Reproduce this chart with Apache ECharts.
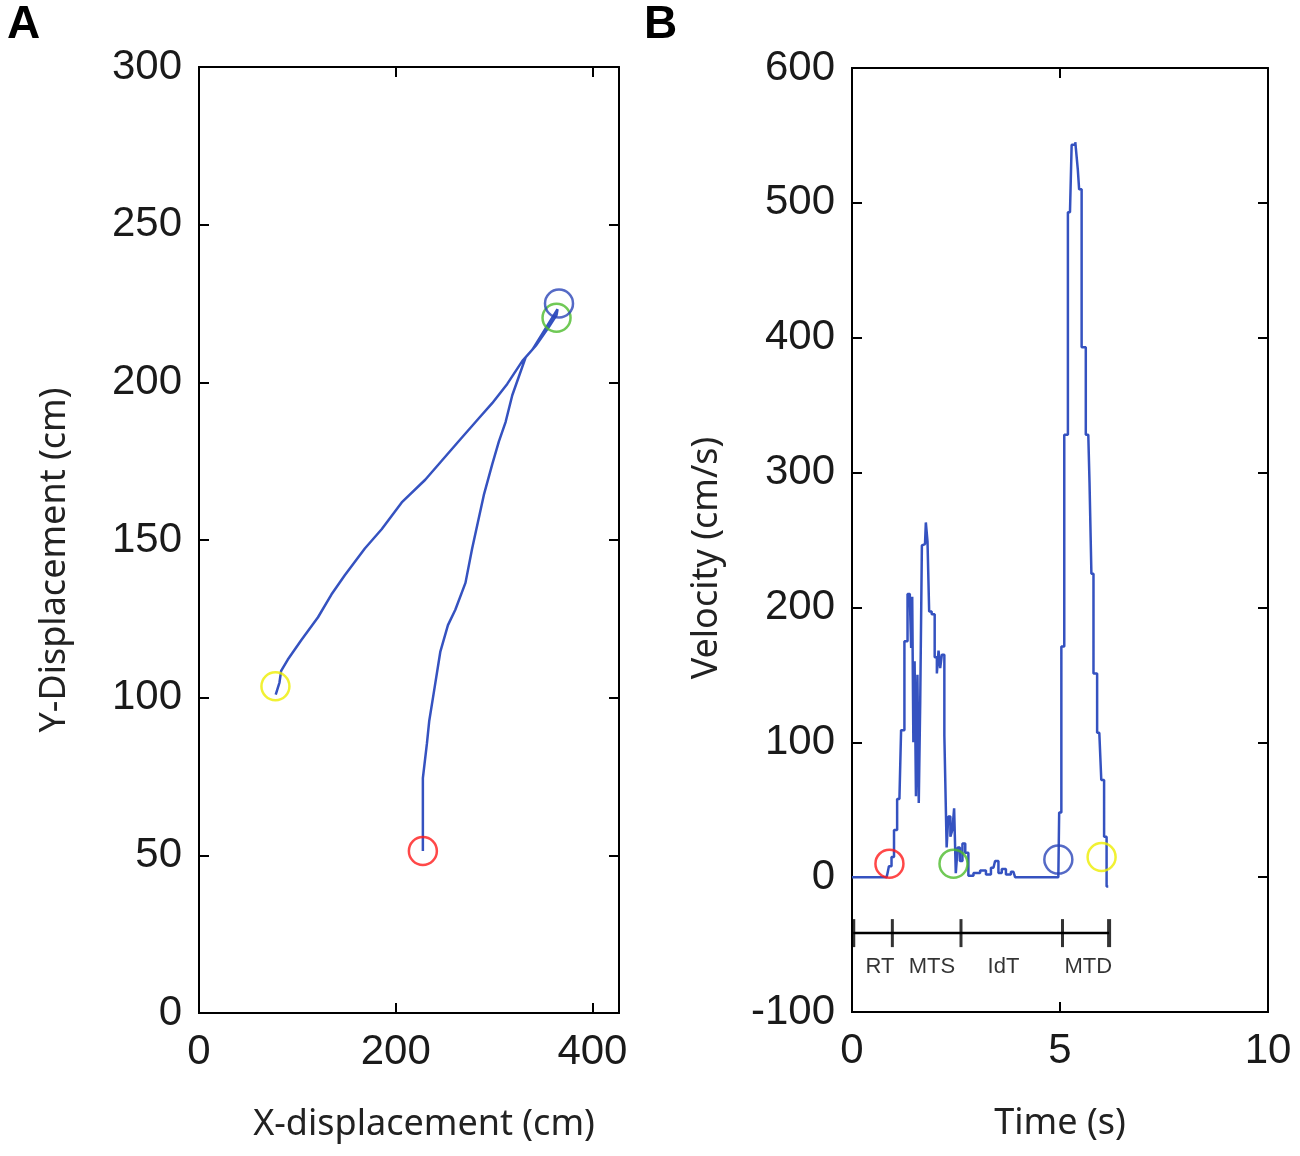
<!DOCTYPE html>
<html>
<head>
<meta charset="utf-8">
<script src="https://cdn.jsdelivr.net/npm/echarts@6/dist/echarts.min.js"></script>
<style>
  html, body { margin: 0; padding: 0; background: #fff; }
  #chart { width: 1300px; height: 1156px; }
</style>
</head>
<body>
<div id="chart"></div>
<script>
// panel A: hand trajectory (cm), red start -> green/blue -> yellow end
var trajX = [227.6, 227.6, 231.7, 234.1, 238.5, 245.3, 253.1, 260.6, 270.9, 277.7, 282.8, 289.6,
  298.1, 304.9, 311.7, 318.5, 325.4, 332.2, 342.4, 356.0, 363.5, 364.5,
  339.0, 328.8, 313.4, 298.1, 284.5, 264.0, 247.0, 230.0, 206.1, 185.7, 168.6, 148.2,
  134.6, 121.0, 103.9, 90.3, 83.5, 81.8, 78.0];
var trajY = [51.4, 74.5, 85.4, 92.7, 101.2, 114.5, 123.0, 127.9, 136.4, 147.3, 154.6, 164.3,
  174.0, 181.3, 187.4, 195.9, 202.0, 208.0, 211.6, 217.7, 221.3, 223.2,
  210.4, 206.8, 199.5, 193.4, 188.6, 181.3, 175.2, 169.1, 161.9, 153.4, 147.3, 138.8,
  132.7, 125.5, 118.2, 112.1, 108.5, 104.8, 101.0];

// panel B: velocity over time
var velT = [0, 0.83, 0.865, 0.91, 0.99, 1.03, 1.14, 1.22, 1.30, 1.37, 1.41, 1.435, 1.46, 1.49,
  1.52, 1.555, 1.59, 1.62, 1.66, 1.70, 1.755, 1.795, 1.835, 1.875, 1.955, 2.02, 2.06, 2.10,
  2.14, 2.18, 2.26, 2.29, 2.34, 2.39, 2.435, 2.475, 2.515, 2.565, 2.62, 2.69, 2.755, 2.84,
  3.0, 3.16, 3.28, 3.40, 3.48, 3.56, 3.64, 3.76, 3.88, 3.96, 4.96, 5.0, 5.065, 5.14, 5.24,
  5.32, 5.415, 5.44, 5.48, 5.56, 5.68, 5.74, 5.77, 5.84, 5.945, 6.04, 6.08, 6.16];
var velV = [0, 0, 2, 8, 15, 35, 58, 109, 175, 210, 207, 170, 208, 100,
  160, 60, 150, 55, 130, 246, 247, 263, 249, 197, 195, 163, 151, 168,
  155, 165, 105, 22, 45, 30, 35, 51, 3, 22, 12, 25, 18, 1,
  3, 5, 2, 7, 12, 3, 6, 2, 4, 0, 0, 48, 171, 328, 493,
  543, 545, 525, 510, 393, 328, 292, 225, 151, 107, 72, 30, -7];

// event markers: red, green, blue, yellow
var markColors = ['#ff1a1a', '#4cbb2c', '#2b45b8', '#eeee00'];
var markAX = [227.6, 363.5, 366.0, 77.7];
var markAY = [51.4, 220.5, 225.0, 103.6];
var markBT = [0.90, 2.44, 4.96, 6.0];
var markBV = [10, 10, 13, 15];

// phase timeline under panel B
var phaseTimes = [0.03, 0.97, 2.62, 5.06, 6.18];
var phaseLevel = -41.5;
var phaseNames = ['RT', 'MTS', 'IdT', 'MTD'];
var phaseLabelT = [0.67, 1.92, 3.64, 5.68];
var phaseLabelV = -66.5;

var lineBlue = '#3552c0';
var tickFont = 'Liberation Sans';
var titleFont = 'Noto Sans';

function tickAxis(gridIndex, min, max, interval, position) {
  // unlabelled axis, only the frame line and inward ticks
  return {
    type: 'value', gridIndex: gridIndex, min: min, max: max, interval: interval,
    position: position,
    axisLine: {show: true, onZero: false, lineStyle: {color: '#000', width: 2}},
    axisTick: {show: true, inside: true, length: 10, lineStyle: {color: '#000', width: 2}},
    splitLine: {show: false},
    axisLabel: {show: false}
  };
}

function frameAxes(gridIndex, min, max, interval, isX, name, nameGap, namePad) {
  var main = {
    type: 'value', gridIndex: gridIndex, min: min, max: max, interval: interval,
    position: isX ? 'bottom' : 'left',
    axisLine: {show: true, onZero: false, lineStyle: {color: '#000', width: 2}},
    axisTick: {show: true, inside: true, length: 10, lineStyle: {color: '#000', width: 2}},
    splitLine: {show: false},
    axisLabel: {show: true, color: '#1a1a1a', fontFamily: tickFont, fontSize: 42,
      margin: isX ? 18 : 17, showMaxLabel: !isX || max % interval === 0},
    name: name, nameLocation: 'middle', nameGap: nameGap,
    nameTextStyle: {color: '#222', fontFamily: titleFont, fontSize: 36, padding: namePad}
  };
  var mirror = tickAxis(gridIndex, min, max, interval, isX ? 'top' : 'right');
  var inner = tickAxis(gridIndex, min, max, interval, isX ? 'bottom' : 'left');
  return [main, mirror, inner];
}

var chart = echarts.init(document.getElementById('chart'));

var xA = frameAxes(0, 0, 427, 200, true, 'X-displacement (cm)', 94, [0, 0, 0, 30]);
var yA = frameAxes(0, 0, 300, 50, false, 'Y-Displacement (cm)', 126, [0, 40, 0, 0]);
var xB = frameAxes(1, 0, 10, 5, true, 'Time (s)', 94, [0, 0, 0, 0]);
var yB = frameAxes(1, -100, 600, 100, false, 'Velocity (cm/s)', 127, [0, 36, 0, 0]);

var option = {
  animation: false,
  backgroundColor: '#fff',
  grid: [
    {left: 199, top: 67, width: 420, height: 946},
    {left: 852, top: 68, width: 416, height: 944}
  ],
  xAxis: [xA[0], xA[1], xB[0], xB[1], xA[2], xB[2]],
  yAxis: [yA[0], yA[1], yB[0], yB[1], yA[2], yB[2]],
  graphic: [
    {type: 'text', left: 7, top: 2, style: {text: 'A', font: 'bold 46px Liberation Sans', fill: '#000'}},
    {type: 'text', left: 644, top: 2, style: {text: 'B', font: 'bold 46px Liberation Sans', fill: '#000'}}
  ],
  series: [
    {
      type: 'line', xAxisIndex: 0, yAxisIndex: 0, showSymbol: false,
      data: trajX.map(function (x, i) { return [x, trajY[i]]; }),
      lineStyle: {color: lineBlue, width: 2.5}
    },
    {
      type: 'scatter', xAxisIndex: 0, yAxisIndex: 0, symbol: 'circle', symbolSize: 28,
      data: markAX.map(function (x, i) {
        return {value: [x, markAY[i]], itemStyle: {color: 'transparent', borderColor: markColors[i], borderWidth: 2.5}};
      }),
      z: 3
    },
    {
      type: 'line', xAxisIndex: 2, yAxisIndex: 2, showSymbol: false, step: 'middle',
      data: velT.map(function (t, i) { return [t, velV[i]]; }),
      lineStyle: {color: lineBlue, width: 2.5}
    },
    {
      type: 'scatter', xAxisIndex: 2, yAxisIndex: 2, symbol: 'circle', symbolSize: 28,
      data: markBT.map(function (t, i) {
        return {value: [t, markBV[i]], itemStyle: {color: 'transparent', borderColor: markColors[i], borderWidth: 2.5}};
      }),
      z: 3
    },
    {
      type: 'line', xAxisIndex: 2, yAxisIndex: 2, showSymbol: false,
      data: [[phaseTimes[0], phaseLevel], [phaseTimes[phaseTimes.length - 1], phaseLevel]],
      lineStyle: {color: '#000', width: 2.5}
    },
    {
      type: 'scatter', xAxisIndex: 2, yAxisIndex: 2, symbol: 'rect',
      data: phaseTimes.map(function (t, i) {
        var edge = i === 0 || i === phaseTimes.length - 1;
        return {value: [t, phaseLevel], symbolSize: [edge ? 4 : 3, 28]};
      }),
      itemStyle: {color: '#000'}
    },
    {
      type: 'scatter', xAxisIndex: 2, yAxisIndex: 2, symbolSize: 0,
      data: phaseNames.map(function (n, i) { return {name: n, value: [phaseLabelT[i], phaseLabelV]}; }),
      label: {show: true, position: 'inside', formatter: '{b}', color: '#000',
        fontFamily: 'Liberation Sans', fontSize: 22}
    }
  ]
};

chart.setOption(option);
</script>
</body>
</html>
